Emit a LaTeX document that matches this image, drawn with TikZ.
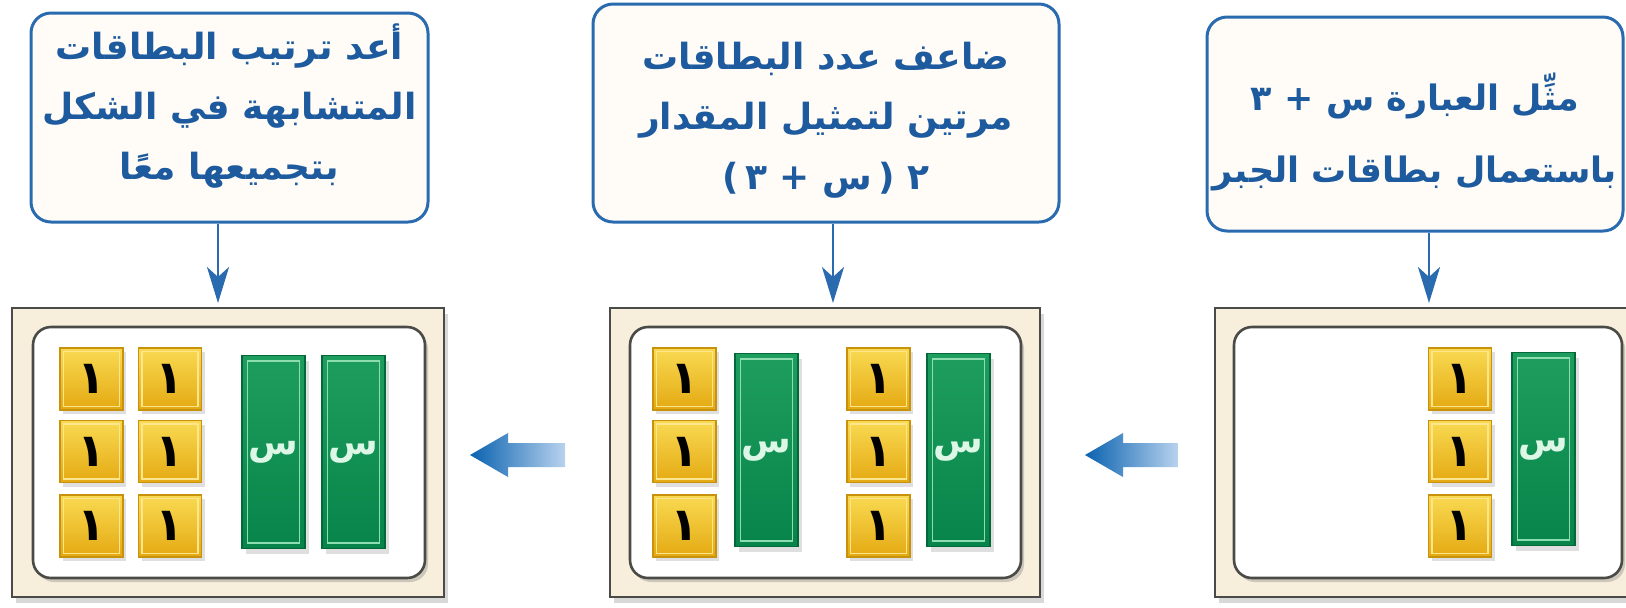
\documentclass[tikz,border=0pt]{standalone}
\usepackage{fontspec}
\usetikzlibrary{shadows,arrows.meta}
\TeXXeTstate=1
\newfontfamily\arabicfont[Script=Arabic]{DejaVu Sans}
\definecolor{txtblue}{HTML}{1D5A9E}
\definecolor{boxblue}{HTML}{2A6BB0}
\definecolor{boxfill}{HTML}{FFFCF7}
\definecolor{framefill}{HTML}{F7EEDC}
\definecolor{frameline}{HTML}{4A4A46}
\definecolor{yeltop}{HTML}{F9DA52}
\definecolor{yelbot}{HTML}{E4A912}
\definecolor{yelline}{HTML}{C8920C}
\definecolor{yelinner}{HTML}{FBE68E}
\definecolor{grntop}{HTML}{1E9E5E}
\definecolor{grnbot}{HTML}{07844A}
\definecolor{grnline}{HTML}{05683A}
\definecolor{grninner}{HTML}{8EDDB0}
\definecolor{grntext}{HTML}{DDF7E6}
\definecolor{arrdark}{HTML}{0A62B0}
\definecolor{arrlight}{HTML}{B8D2EE}
\begin{document}
\begin{tikzpicture}[x=0.5pt,y=-0.5pt,
  topbox/.style={draw=boxblue, line width=1.5pt, rounded corners=10pt, fill=boxfill, inner sep=0pt},
  boxtext/.style={text=txtblue, font=\arabicfont\bfseries\fontsize{18}{30}\selectfont, align=center, inner sep=0pt},
  conn/.style={draw=boxblue, line width=1.4pt, -{Stealth[length=18pt,width=11pt,inset=5pt]}},
  frameout/.style={draw=frameline, line width=1.1pt, fill=framefill, inner sep=0pt,
    drop shadow={shadow xshift=2pt, shadow yshift=-3pt, opacity=0.3}},
  framein/.style={draw=frameline, line width=1.3pt, fill=white, rounded corners=9pt, inner sep=0pt,
    drop shadow={shadow xshift=1.5pt, shadow yshift=-2pt, opacity=0.35}},
  ytile/.style={draw=yelline, line width=0.6pt, top color=yeltop, bottom color=yelbot,
    minimum width=31.5pt, minimum height=31pt, inner sep=0pt,
    font=\arabicfont\bfseries\fontsize{23}{23}\selectfont, text=black,
    drop shadow={shadow xshift=1.5pt, shadow yshift=-2pt, opacity=0.25}},
  gtile/.style={draw=grnline, line width=0.6pt, top color=grntop, bottom color=grnbot,
    minimum width=31.5pt, minimum height=96.5pt, inner sep=0pt,
    font=\arabicfont\bfseries\fontsize{18}{18}\selectfont, text=grntext,
    drop shadow={shadow xshift=2pt, shadow yshift=-2.5pt, opacity=0.25}},
  yinner/.style={draw=yelinner, line width=0.7pt},
  ginner/.style={draw=grninner, line width=0.7pt},
  blockarrow/.style={left color=arrdark, right color=arrlight}
]
\useasboundingbox (0,0) rectangle (1626,607);
\fill[white] (0,0) rectangle (1626,607);
\clip (0,0) rectangle (1626,607);

% top instruction boxes
\node[topbox, minimum width=198.5pt, minimum height=104.5pt] (t1) at (229.5,117.5) {};
\node[topbox, minimum width=233pt, minimum height=109pt] (t2) at (826,113) {};
\node[topbox, minimum width=208pt, minimum height=107pt] (t3) at (1415,124) {};
\node[boxtext] (t1txt) at (229.5,106)
  {\beginR أعد ترتيب البطاقات\endR\\ \beginR المتشابهة في الشكل\endR\\ \beginR بتجميعها معًا\endR};
\node[boxtext] (t2txt) at (826,120)
  {\beginR ضاعف عدد البطاقات\endR\\ \beginR مرتين لتمثيل المقدار\endR\\
   \beginR\mbox{٢}\ \mbox{(}\,\mbox{س}\ \mbox{+}\ \mbox{٣}\,\mbox{)}\endR};
\node[boxtext, font=\arabicfont\bfseries\fontsize{17.5}{36}\selectfont] (t3txt) at (1415,132)
  {\beginR مثِّل العبارة س + ٣\endR\\ \beginR باستعمال بطاقات الجبر\endR};

% frames
\node[frameout, minimum width=216pt, minimum height=144.5pt] (f1) at (228,452.5) {};
\node[framein, minimum width=196pt, minimum height=125.5pt] (p1) at (229,452.5) {};
\node[frameout, minimum width=215pt, minimum height=144.5pt] (f2) at (825,452.5) {};
\node[framein, minimum width=195.5pt, minimum height=125.5pt] (p2) at (825.5,452.5) {};
\node[frameout, minimum width=216pt, minimum height=144.5pt] (f3) at (1431,452.5) {};
\node[framein, minimum width=194pt, minimum height=125.5pt] (p3) at (1428,452.5) {};

% connectors
\coordinate (a1) at (218,303);
\coordinate (a2) at (833,303);
\coordinate (a3) at (1429,303);
\draw[conn] (t1.south -| a1) -- (a1);
\draw[conn] (t2.south -| a2) -- (a2);
\draw[conn] (t3.south -| a3) -- (a3);

% yellow tiles
\foreach \n/\x/\y in {y1/91.5/379, y2/91.5/451.5, y3/91.5/526, y4/170/379, y5/170/451.5, y6/170/526,
  y7/684.5/379, y8/684.5/451.5, y9/684.5/526, y10/878.5/379, y11/878.5/451.5, y12/878.5/526,
  y13/1460/379, y14/1460/451.5, y15/1460/526}{
  \node[ytile] (\n) at (\x,\y) {١};
  \draw[yinner] ([shift={(4,4)}]\n.north west) rectangle ([shift={(-4,-4)}]\n.south east);
}
% green tiles
\foreach \n/\x/\y in {g1/273.5/452, g2/353.5/452, g3/766.5/450, g4/958.5/450, g5/1543.5/449}{
  \node[gtile] (\n) at (\x,\y) {س};
  \draw[ginner] ([shift={(6,6)}]\n.north west) rectangle ([shift={(-6,-6)}]\n.south east);
}

% block arrows between frames
\coordinate (b1) at (470,455);
\coordinate (b2) at (1085,455);
\shade[blockarrow] (b1) -- ++(38,-22) -- ++(0,10) -- ++(57,0) -- ++(0,24) -- ++(-57,0) -- ++(0,10) -- cycle;
\shade[blockarrow] (b2) -- ++(38,-22) -- ++(0,10) -- ++(55,0) -- ++(0,24) -- ++(-55,0) -- ++(0,10) -- cycle;
\end{tikzpicture}
\end{document}
